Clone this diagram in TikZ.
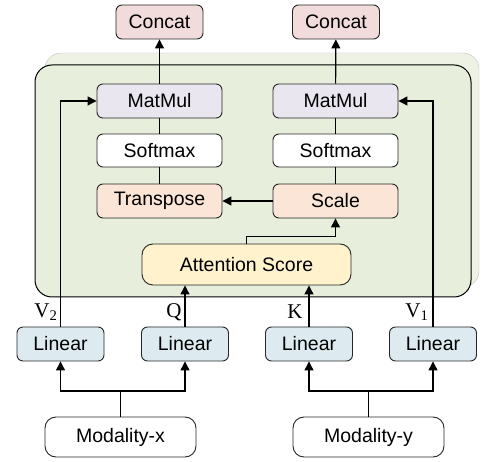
\documentclass[tikz,border=0pt]{standalone}
\usepackage{fontspec}
\setmainfont{Liberation Sans}
\newfontfamily\timesfont{Liberation Serif}
\usetikzlibrary{arrows.meta}
\definecolor{concatfill}{HTML}{F2DCDB}
\definecolor{matfill}{HTML}{E9E6F0}
\definecolor{peachfill}{HTML}{FBE5D6}
\definecolor{attfill}{HTML}{FFF2CC}
\definecolor{linfill}{HTML}{DDEBF1}
\definecolor{panelfill}{HTML}{E7EEDB}
\definecolor{backfill}{HTML}{EDF2E5}

\begin{document}
\begin{tikzpicture}[x=1pt,y=-1pt,
	box/.style={draw=black!85, line width=0.9pt, rounded corners=6pt, inner sep=0pt,
		minimum height=34pt, font=\fontsize{19.5}{22}\selectfont},
	opbox/.style={box, minimum width=125pt},
	linbox/.style={box, fill=linfill, minimum width=87pt},
	arr/.style={line width=1.2pt, -{Triangle[length=9pt,width=9pt]}},
	ln/.style={line width=1.2pt},
	qkv/.style={font=\timesfont\fontsize{21}{22}\selectfont, inner sep=0pt}]
		%%%%% START %%%%%
		\useasboundingbox (0,0) rectangle (483,462);
		
		% panels
		\draw[black!25, fill=backfill, rounded corners=16pt] (45,53) rectangle (479,287);
		\draw[black, line width=1pt, fill=panelfill, rounded corners=17pt] (35,65) rectangle (471,297);
		
		% top outputs
		\node[box, fill=concatfill, minimum width=87pt] (cat1) at (159.5,22) {Concat};
		\node[box, fill=concatfill, minimum width=87pt] (cat2) at (336,22) {Concat};
		
		% left column
		\node[opbox, fill=matfill] (mm1) at (159.5,101) {MatMul};
		\node[opbox, fill=white, minimum height=33pt] (sm1) at (159.5,150.5) {Softmax};
		\node[opbox, fill=peachfill] (tr) at (159.5,201) {Transpose};
		
		% right column
		\node[opbox, fill=matfill] (mm2) at (335.5,101) {MatMul};
		\node[opbox, fill=white, minimum height=33pt] (sm2) at (335.5,150.5) {Softmax};
		\node[opbox, fill=peachfill] (sc) at (335.5,201) {Scale};
		
		\node[box, fill=attfill, minimum width=209pt, minimum height=41pt, rounded corners=11pt] (att) at (246.5,264.5) {Attention Score};
		
		% projections
		\node[linbox] (lin1) at (60.5,344) {Linear};
		\node[linbox] (lin2) at (185,344) {Linear};
		\node[linbox] (lin3) at (309,344) {Linear};
		\node[linbox] (lin4) at (433,344) {Linear};
		
		\node[box, fill=white, minimum width=151pt, minimum height=40pt, rounded corners=11pt] (modx) at (120.5,437) {Modality-x};
		\node[box, fill=white, minimum width=151pt, minimum height=40pt, rounded corners=11pt] (mody) at (368.5,437) {Modality-y};
		
		% labels
		\node[qkv] (lv2) at (46,312) {V\textsubscript{2}};
		\node[qkv] (lq) at (174,312) {Q};
		\node[qkv] (lk) at (295,312) {K};
		\node[qkv] (lv1) at (417,312) {V\textsubscript{1}};
		
		% connectors
		\draw[arr] (mm1) -- (cat1);
		\draw[arr] (mm2) -- (cat2);
		\draw[ln] (sm1) -- (mm1);
		\draw[ln] (sm1) -- (tr);
		\draw[ln] (sm2) -- (mm2);
		\draw[ln] (sm2) -- (sc);
		\draw[arr] (sc) -- (tr);
		\draw[arr] (att.north) -- ++(0,-7) -| (sc.south);
		\draw[arr] (lin2.north) -- (lin2.north |- att.south);
		\draw[arr] (lin3.north) -- (lin3.north |- att.south);
		\draw[arr] (lin1.north) |- (mm1.west);
		\draw[arr] (lin4.north) |- (mm2.east);
		
		\coordinate (bx) at (120.5,391);
		\coordinate (by) at (368.5,391);
		\draw[ln] (modx) -- (bx);
		\draw[arr] (bx) -| (lin1.south);
		\draw[arr] (bx) -| (lin2.south);
		\draw[ln] (mody) -- (by);
		\draw[arr] (by) -| (lin3.south);
		\draw[arr] (by) -| (lin4.south);
		%%%%% END %%%%%
\end{tikzpicture}
\end{document}
